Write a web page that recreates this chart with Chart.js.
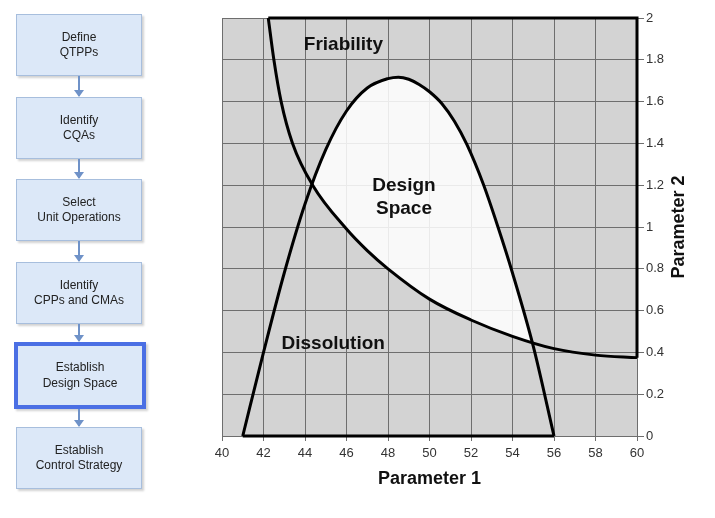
<!DOCTYPE html>
<html>
<head>
<meta charset="utf-8">
<script src="https://cdn.jsdelivr.net/npm/chart.js@4.4.1/dist/chart.umd.min.js"></script>
<style>
  html, body { margin:0; padding:0; background:#fff; }
  #wrap { position:relative; width:715px; height:518px; overflow:hidden; font-family:"Liberation Sans", Arial, sans-serif; }
  #c { position:absolute; left:0; top:0; }
  .box { position:absolute; left:16px; width:124px; height:60px; background:#dce8f8; border:1px solid #a7bedd;
         box-shadow:2px 2px 2px rgba(0,0,0,0.18); display:flex; align-items:center; justify-content:center;
         text-align:center; font-size:12px; line-height:15.5px; color:#222; }
  .box.hl { left:14px; width:124px; height:59px; border:4px solid #4b6fe4; }
  .arrow { position:absolute; left:78px; width:2px; background:#6f92c8; }
  .arrow::after { content:""; position:absolute; left:-4px; bottom:-1px; border-left:5px solid transparent; border-right:5px solid transparent; border-top:7px solid #6f92c8; }
</style>
</head>
<body>
<div id="wrap">
  <canvas id="c" width="715" height="518"></canvas>
  <div id="flow"></div>
</div>
<script>
// ---- data ----
const xTicks = [40, 42, 44, 46, 48, 50, 52, 54, 56, 58, 60];
const yTickLabels = ['0', '0.2', '0.4', '0.6', '0.8', '1', '1.2', '1.4', '1.6', '1.8', '2'];

const dissolutionX = [41, 42, 43, 44, 45, 46, 47, 48, 48.5, 49, 49.5, 50, 50.6, 51.2, 51.8, 52.6, 53.3, 54, 55, 56];
const dissolutionY = [0, 0.4, 0.78, 1.11, 1.37, 1.555, 1.665, 1.71, 1.717, 1.707, 1.682, 1.647, 1.59, 1.506, 1.395, 1.203, 1.0, 0.78, 0.43, 0];

const friabilityX = [42.23, 42.5, 42.85, 43.4, 44.37, 46, 47, 48, 50, 52, 54, 56, 58, 60];
const friabilityY = [2, 1.8, 1.6, 1.4, 1.2, 0.99, 0.887, 0.8, 0.655, 0.555, 0.477, 0.418, 0.387, 0.375];

const flowSteps = [
  ['Define', 'QTPPs'],
  ['Identify', 'CQAs'],
  ['Select', 'Unit Operations'],
  ['Identify', 'CPPs and CMAs'],
  ['Establish', 'Design Space'],
  ['Establish', 'Control Strategy']
];
const highlightedStep = 4;

// ---- flowchart (HTML) ----
const boxTops = [14, 97, 179, 262, 342, 427];
const flow = document.getElementById('flow');
flowSteps.forEach((lines, i) => {
  const d = document.createElement('div');
  d.className = 'box' + (i === highlightedStep ? ' hl' : '');
  d.style.top = boxTops[i] + 'px';
  d.innerHTML = lines.join('<br>');
  flow.appendChild(d);
  if (i < flowSteps.length - 1) {
    const bottom = boxTops[i] + (i === highlightedStep ? 67 : 62);
    const a = document.createElement('div');
    a.className = 'arrow';
    a.style.top = bottom + 'px';
    a.style.height = (boxTops[i + 1] - bottom - 1) + 'px';
    flow.appendChild(a);
  }
});

// ---- chart ----
const pts = (xs, ys) => xs.map((x, i) => ({ x: x, y: ys[i] }));
const nF = friabilityX.length - 1, nD = dissolutionX.length - 1;
const friabilityLimit = [
  { x: friabilityX[0], y: friabilityY[0] },
  { x: friabilityX[nF], y: friabilityY[0] },
  { x: friabilityX[nF], y: friabilityY[nF] }
];
const dissolutionBase = [
  { x: dissolutionX[0], y: dissolutionY[0] },
  { x: dissolutionX[nD], y: dissolutionY[nD] }
];

const FONT = '"Liberation Sans", Arial, sans-serif';
const GRID = '#6e6e6e';

const bgPlugin = {
  id: 'bg',
  beforeDraw(chart) {
    const { ctx, chartArea: a } = chart;
    ctx.save();
    ctx.fillStyle = '#d3d3d3';
    ctx.fillRect(a.left, a.top, a.right - a.left, a.bottom - a.top);
    ctx.restore();
  }
};

const labelPlugin = {
  id: 'labels',
  afterDraw(chart) {
    const { ctx, chartArea: a } = chart;
    const xs = chart.scales.x, ys = chart.scales.y;
    ctx.save();
    ctx.fillStyle = '#111';
    ctx.textAlign = 'center';
    ctx.textBaseline = 'middle';
    ctx.font = 'bold 19px ' + FONT;
    const notes = [
      ['Friability', 45.85, 1.871],
      ['Design', 48.77, 1.196],
      ['Space', 48.77, 1.086],
      ['Dissolution', 45.36, 0.443]
    ];
    notes.forEach(([t, x, y]) => ctx.fillText(t, xs.getPixelForValue(x), ys.getPixelForValue(y)));
    // axis titles
    ctx.font = 'bold 18px ' + FONT;
    ctx.fillText('Parameter 1', (a.left + a.right) / 2, 479);
    ctx.translate(679, (a.top + a.bottom) / 2);
    ctx.rotate(-Math.PI / 2);
    ctx.fillText('Parameter 2', 0, 0);
    ctx.restore();
  }
};

const line = (label, data, extra) => Object.assign({
  label: label, data: data, borderColor: '#000', borderWidth: 3, pointRadius: 0,
  cubicInterpolationMode: 'monotone', fill: false, clip: false, borderJoinStyle: 'miter'
}, extra || {});

new Chart(document.getElementById('c'), {
  type: 'line',
  data: {
    datasets: [
      line('Dissolution', pts(dissolutionX, dissolutionY), {
        fill: { target: 1, above: 'rgba(255,255,255,0.86)', below: 'rgba(0,0,0,0)' }
      }),
      line('Friability', pts(friabilityX, friabilityY)),
      line('Friability limit', friabilityLimit, { cubicInterpolationMode: 'default', tension: 0 }),
      line('Dissolution limit', dissolutionBase, { cubicInterpolationMode: 'default', tension: 0 })
    ]
  },
  options: {
    responsive: false,
    animation: false,
    layout: { padding: { left: 222, top: 18, right: 0, bottom: 0 } },
    plugins: {
      legend: { display: false }, tooltip: { enabled: false },
      filler: { drawTime: 'beforeDatasetsDraw' }
    },
    scales: {
      x: {
        type: 'linear', min: xTicks[0], max: xTicks[xTicks.length - 1],
        afterBuildTicks: s => { s.ticks = xTicks.map(v => ({ value: v })); },
        ticks: { color: '#333', font: { size: 13, family: FONT }, padding: 5, maxRotation: 0, autoSkip: false },
        grid: { color: GRID, lineWidth: 1, tickLength: 5 },
        border: { color: GRID },
        afterFit: s => { s.height = 82; }
      },
      y: {
        position: 'right', min: 0, max: 2,
        ticks: {
          stepSize: 0.2, color: '#333', font: { size: 13, family: FONT }, padding: 2,
          callback: (v) => yTickLabels[Math.round(v / 0.2)]
        },
        grid: { color: GRID, lineWidth: 1, tickLength: 7 },
        border: { color: GRID },
        afterFit: s => { s.width = 78; }
      }
    }
  },
  plugins: [bgPlugin, labelPlugin]
});
</script>
</body>
</html>
